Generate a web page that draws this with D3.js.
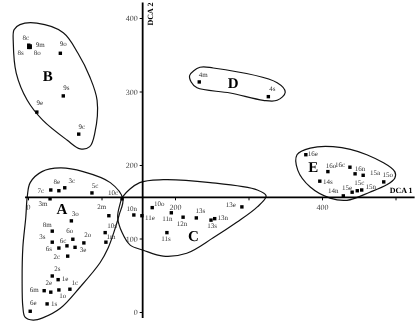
<!DOCTYPE html>
<html lang="en">
<head>
<meta charset="utf-8">
<title>DCA ordination of sampling sites</title>
<script src="https://d3js.org/d3.v7.min.js"></script>
<style>
  body { margin: 0; background: #fff; }
  #chart { will-change: transform; }
  svg text { font-family: "Liberation Serif", "DejaVu Serif", serif; text-rendering: geometricPrecision; -webkit-font-smoothing: antialiased; }
</style>
</head>
<body>
<div id="chart"></div>
<script>
// site codes with their DCA axis 1 / axis 2 scores
var sites = ["8c","9m","8s","8o","9o","9s","9e","9c",
  "4m","4s",
  "7c","8e","3c","5c","10c","3m","3o","2m","8m","10s","6o","2o","3s","1m","6c","3e","6s","2c","2s","1e","2e","6m","1c","1o","1s","6e",
  "10o","10n","11e","11n","12n","13s","13n","13s","11s","13e",
  "16e","16o","16c","16n","15a","15o","14s","15e","15c","15n","14n"];
var dca1 = [1,3,1,3,44,48,12,69,
  233,327,
  31,42,50,87,128,30,59,110,33,105,61,76,33,106,53,64,42,54,33,41,31,22,57,42,26,3,
  169,144,155,195,211,229,254,249,189,291,
  378,408,438,445,456,484,397,441,448,454,429];
var dca2 = [363,362,360,360,352,294,272,242,
  313,293,
  166,165,169,162,154,154,124,131,110,108,99,94,95,95,90,88,87,76,49,44,27,29,31,30,11,1,
  142,132,131,135,129,128,127,125,108,143,
  214,191,197,188,186,177,178,163,165,166,158];
// where each site code is written, relative to its square (px)
var labelOffset = [[-3,-7],[10,-1],[-8,6],[7,6],[3,-9],[3,-8],[3,-9],[3,-7],
  [4,-7],[4,-8],
  [-10,1],[-2,-9],[7,-7],[3,-7],[-9,-6],[-7,5],[4,-7],[-7,-9],[-5,-6],[7,-7],[-3,-8],[4,-8],[-10,-5],[5,-5],[-4,-5],[8,3],[-10,1],[-11,1],[5,-7],[7,-1],[-2,-9],[-10,-1],[5,-6],[4,6],[7,0],[3,-8],
  [7,-4],[-2,-6],[8,2],[-4,6],[-1,7],[4,-7],[8,-1],[1,6],[-1,6],[-11,-2],
  [7,-1],[3,-6],[-10,-2],[5,-5],[12,-2],[4,-7],[8,1],[-5,-4],[2,-8],[9,-3],[-10,-5]];

// site groups: letter, where it is written, and the outline drawn round it
var groupNames = ["A","B","C","D","E"];
var groupAt = [[46,139],[27,320],[225,102],[279,310],[388,196]];
var hullA = [[129,154],[124,132],[118,112],[109,87],[98,67],[71,34],[44,5],[20,-8],[7,-11],[-4,-7],[-7,7],[-8,44],[-7,88],[-3,129],[-1,157],[3,176],[19,191],[44,196],[75,191],[112,176]];
var hullB = [[-11,391],[12,393],[48,380],[68,352],[84,320],[94,288],[91,244],[84,225],[71,222],[53,234],[20,261],[-1,288],[-16,325],[-20,366],[-19,384]];
var hullC = [[129,157],[152,176],[184,180],[248,176],[312,166],[324,158],[312,143],[284,122],[252,101],[216,80],[184,76],[157,84],[139,91],[128,108],[122,129],[125,146]];
var hullD = [[220,322],[234,333],[252,332],[339,312],[350,299],[339,288],[320,288],[275,298],[230,305],[222,313]];
var hullE = [[366,214],[384,223],[415,225],[461,214],[499,191],[499,182],[488,173],[465,163],[434,152],[411,155],[384,170],[367,193]];
var hulls = [hullA, hullB, hullC, hullD, hullE];

// axes cross here (in DCA units), labelled ticks
var axisCross = [156, 156];
var xTicks = [0, 100, 200, 300, 400, 500];
var xTickLabels = [0, 200, 400];
var yTicks = [0, 100, 200, 300, 400];

var width = 419, height = 324;

var svg = d3.select("#chart").append("svg")
  .attr("width", width)
  .attr("height", height)
  .style("background", "#fff");

var x = d3.scaleLinear().domain([0, 500]).range([28, 395.5]);
var y = d3.scaleLinear().domain([0, 400]).range([312, 18]);

// group outlines
var hullLine = d3.line()
  .x(function(d) { return x(d[0]); })
  .y(function(d) { return y(d[1]); })
  .curve(d3.curveCatmullRomClosed.alpha(0.5));

svg.selectAll(".hull")
  .data(hulls)
  .enter().append("path")
  .attr("class", "hull")
  .attr("d", hullLine)
  .attr("fill", "none")
  .attr("stroke", "#111")
  .attr("stroke-width", 1.2);

// DCA 1 axis (horizontal)
var xAxis = svg.append("g")
  .attr("transform", "translate(0," + y(axisCross[1]) + ")")
  .call(d3.axisBottom(x)
    .tickValues(xTicks)
    .tickSize(3)
    .tickPadding(4)
    .tickFormat(function(d) { return xTickLabels.indexOf(d) >= 0 ? d : ""; }));
xAxis.select(".domain").remove();
xAxis.append("line")
  .attr("x1", x(-4)).attr("x2", x(526))
  .attr("stroke", "#000").attr("stroke-width", 1.6);

// DCA 2 axis (vertical)
var yAxis = svg.append("g")
  .attr("transform", "translate(" + x(axisCross[0]) + ",0)")
  .call(d3.axisLeft(y)
    .tickValues(yTicks)
    .tickSize(3)
    .tickPadding(2));
yAxis.select(".domain").remove();
yAxis.append("line")
  .attr("y1", y(-8)).attr("y2", y(421))
  .attr("stroke", "#000").attr("stroke-width", 1.8);

svg.selectAll(".tick text")
  .attr("font-family", "Liberation Serif, serif")
  .attr("font-size", 8)
  .attr("fill", "#444");
svg.selectAll(".tick line").attr("stroke", "#000");

svg.append("text")
  .attr("x", x(526) - 2)
  .attr("y", y(axisCross[1]) - 4)
  .attr("text-anchor", "end")
  .attr("font-size", 8)
  .attr("font-weight", "bold")
  .text("DCA 1");

svg.append("text")
  .attr("transform", "translate(" + (x(axisCross[0]) + 10) + "," + y(421) + ") rotate(-90)")
  .attr("text-anchor", "end")
  .attr("font-size", 8)
  .attr("font-weight", "bold")
  .text("DCA 2");

// site squares
var sz = 3.4;
svg.selectAll(".site")
  .data(sites)
  .enter().append("rect")
  .attr("class", "site")
  .attr("x", function(d, i) { return x(dca1[i]) - sz / 2; })
  .attr("y", function(d, i) { return y(dca2[i]) - sz / 2; })
  .attr("width", sz)
  .attr("height", sz)
  .attr("fill", "#000");

// site codes
svg.selectAll(".code")
  .data(sites)
  .enter().append("text")
  .attr("class", "code")
  .attr("x", function(d, i) { return x(dca1[i]) + labelOffset[i][0]; })
  .attr("y", function(d, i) { return y(dca2[i]) + labelOffset[i][1]; })
  .attr("text-anchor", "middle")
  .attr("dominant-baseline", "central")
  .attr("font-size", 7)
  .attr("fill", "#333")
  .text(function(d) { return d; });

// group letters
svg.selectAll(".group")
  .data(groupNames)
  .enter().append("text")
  .attr("class", "group")
  .attr("x", function(d, i) { return x(groupAt[i][0]); })
  .attr("y", function(d, i) { return y(groupAt[i][1]); })
  .attr("text-anchor", "middle")
  .attr("dominant-baseline", "central")
  .attr("font-size", 15)
  .attr("font-weight", "bold")
  .text(function(d) { return d; });
</script>
</body>
</html>
